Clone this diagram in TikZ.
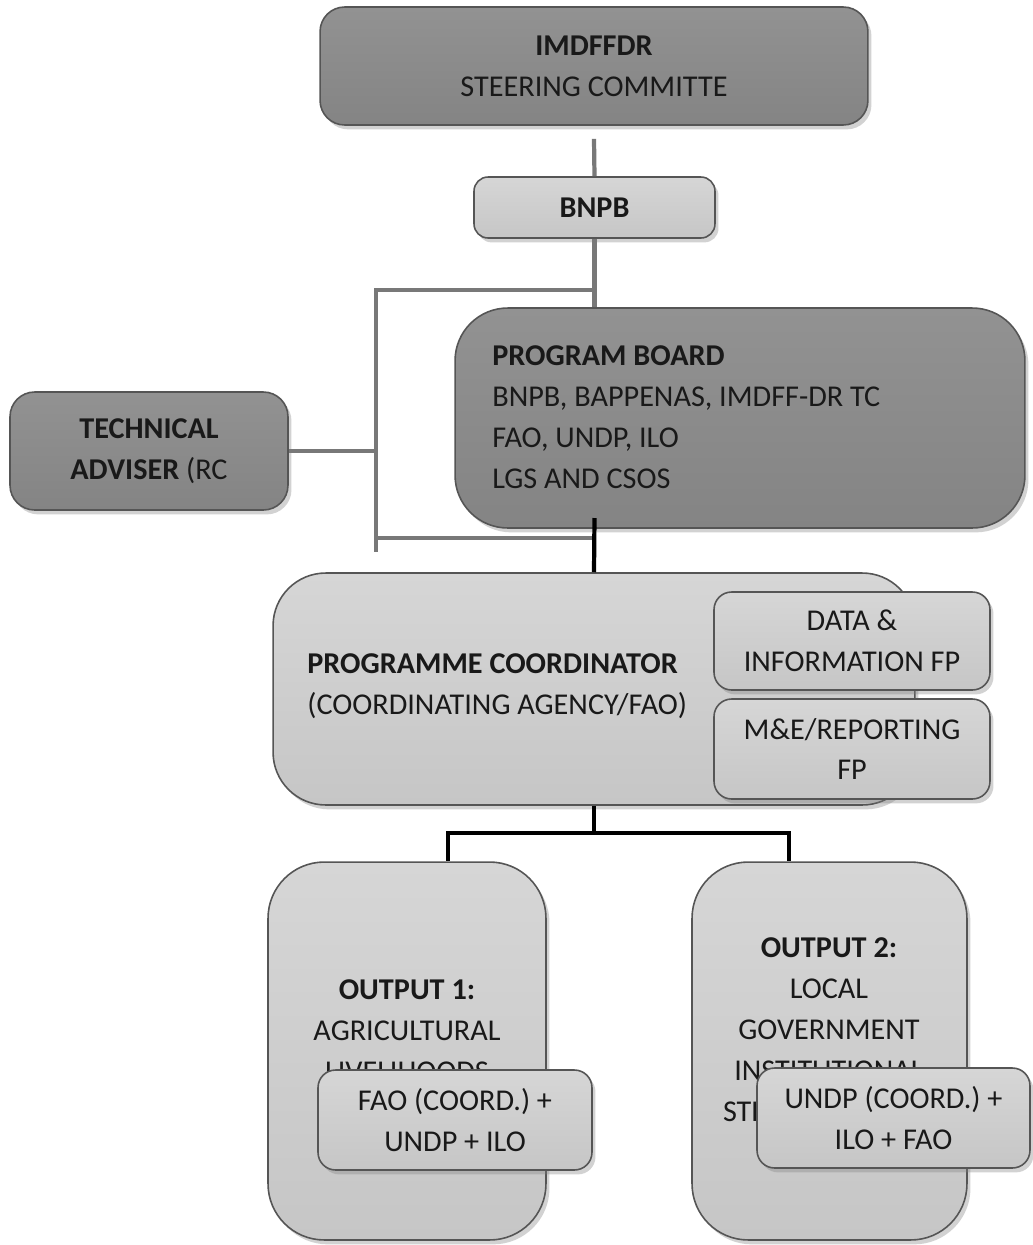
\documentclass[tikz,border=0pt]{standalone}
\usepackage{fontspec}
\setmainfont{Carlito}
\usetikzlibrary{shadows}
\definecolor{darkbox}{RGB}{132,132,132}
\definecolor{darkboxtop}{RGB}{146,146,146}
\definecolor{lightbox}{RGB}{198,198,198}
\definecolor{lightboxtop}{RGB}{214,214,214}
\definecolor{edge}{RGB}{85,85,85}
\definecolor{greyline}{RGB}{120,120,120}
\tikzset{
  box/.style={draw=edge, line width=0.9pt, rounded corners=#1, inner sep=2pt, align=center,
    drop shadow={opacity=0.35, shadow xshift=2pt, shadow yshift=-2.5pt}},
  darkb/.style={box=#1, top color=darkboxtop, bottom color=darkbox},
  lightb/.style={box=#1, top color=lightboxtop, bottom color=lightbox},
  txt/.style={font=\fontsize{17.2}{23.3}\selectfont, text=black!90},
  gline/.style={draw=greyline, line width=2.4pt},
  bline/.style={draw=black, line width=2.4pt},
}
\begin{document}
\begin{tikzpicture}[x=0.02cm, y=-0.02cm]
\useasboundingbox[fill=white] (0,0) rectangle (1032,1245);

% steering committee
\node[darkb=14pt, txt, minimum width=10.96cm, minimum height=2.36cm] (sc) at (594,66)
  {\textbf{IMDFFDR}\\STEERING COMMITTE};
% BNPB
\node[lightb=8pt, txt, minimum width=4.82cm, minimum height=1.22cm] (bnpb) at (594.5,207.5)
  {\textbf{BNPB}};

% bracket lines (behind the program board)
\coordinate (btop) at (594.5,290);
\coordinate (bleft) at (376,290);
\coordinate (bbot) at (376,552);
\coordinate (blow) at (376,538);
\coordinate (blowr) at (594.5,538);
\draw[gline] ([yshift=-0.26cm]sc.south) -- (bnpb.north);
\draw[gline] (bnpb.south) -- (bnpb.south |- 0,330);
\draw[gline] (btop) -- (bleft) -- (bbot);
\draw[gline] (blow) -- (blowr);

% program board
\node[darkb=30pt, minimum width=11.4cm, minimum height=4.4cm] (pb) at (740,418) {};
\node[txt, anchor=west, align=left, inner sep=0pt] (pbtext) at (492,417)
  {\textbf{PROGRAM BOARD}\\BNPB, BAPPENAS, IMDFF-DR TC\\FAO, UNDP, ILO\\LGS AND CSOS};

% technical adviser
\node[darkb=14pt, txt, minimum width=5.56cm, minimum height=2.36cm] (ta) at (149,451)
  {\textbf{TECHNICAL}\\\textbf{ADVISER} (RC};
\draw[gline] (ta.east) -- (ta.east -| bleft);

% program board -> coordinator
\coordinate (pbout) at (594.5,518);
\node[lightb=30pt, minimum width=12.84cm, minimum height=4.64cm] (pc) at (594,689) {};
\draw[bline] (pbout) -- (pc.north);
\node[txt, anchor=west, align=left, inner sep=0pt] (pctext) at (307,686)
  {\textbf{PROGRAMME COORDINATOR}\\(COORDINATING AGENCY/FAO)};
\node[lightb=10pt, txt, minimum width=5.52cm, minimum height=1.96cm] (data) at (852,641)
  {DATA \&\\INFORMATION FP};
\node[lightb=10pt, txt, minimum width=5.52cm, minimum height=2cm] (me) at (852,749)
  {M\&E/REPORTING\\FP};

% outputs
\node[lightb=32pt, minimum width=5.56cm, minimum height=7.56cm] (o1) at (407,1051) {};
\node[lightb=32pt, minimum width=5.5cm, minimum height=7.56cm] (o2) at (829.5,1051) {};
\coordinate (split) at (594,833);
\coordinate (sl) at (448,833);
\coordinate (sr) at (789,833);
\draw[bline] (pc.south) -- (split);
\draw[bline, line cap=rect] (sl) -- (sr);
\draw[bline] (sl) -- (sl |- o1.north);
\draw[bline] (sr) -- (sr |- o2.north);

\node[txt, align=center] (o1text) at (407,1031)
  {\textbf{OUTPUT 1:}\\AGRICULTURAL\\LIVELIHOODS};
\node[txt, align=center] (o2text) at (829,1030)
  {\textbf{OUTPUT 2:}\\LOCAL\\GOVERNMENT\\INSTITUTIONAL\\STRENGTHENING};

\node[lightb=10pt, txt, minimum width=5.48cm, minimum height=2cm] (fao) at (455,1120)
  {FAO (COORD.) +\\UNDP + ILO};
\node[lightb=10pt, txt, minimum width=5.46cm, minimum height=2cm] (undp) at (893.5,1118)
  {UNDP (COORD.) +\\ILO + FAO};
\end{tikzpicture}
\end{document}
